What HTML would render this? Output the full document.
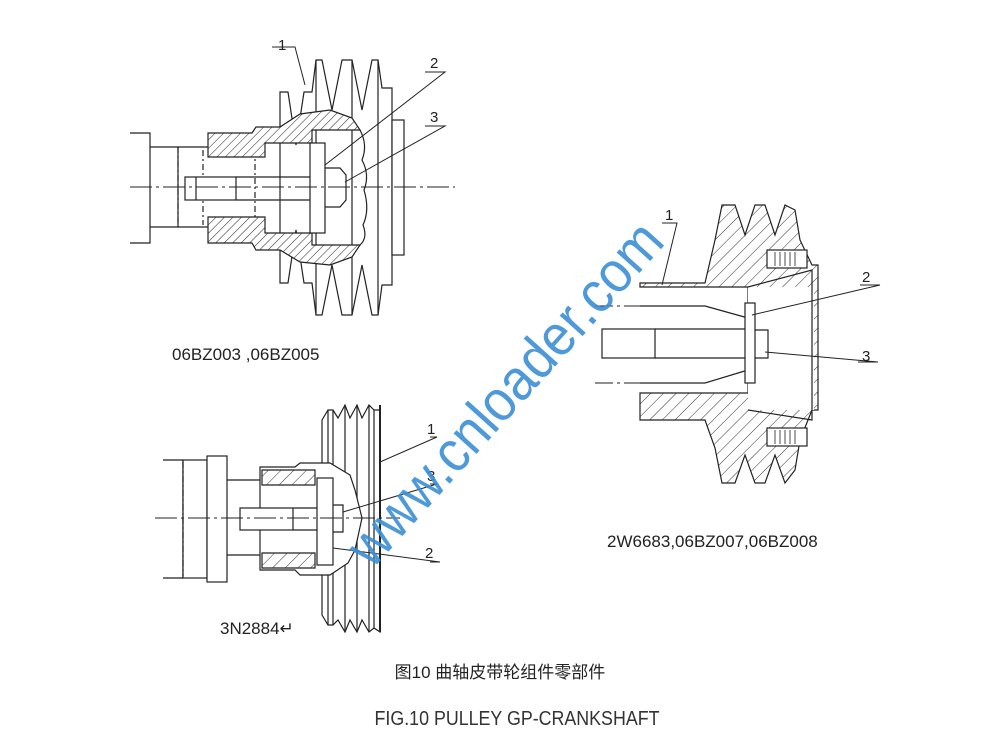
<!DOCTYPE html>
<html><head><meta charset="utf-8"><style>
html,body{margin:0;padding:0;background:#fff}
svg{display:block}
text{font-family:"Liberation Sans","Noto Sans CJK SC",sans-serif;fill:#222}
</style></head><body>
<svg width="1000" height="752" viewBox="0 0 1000 752" xmlns="http://www.w3.org/2000/svg">
<defs>
<pattern id="h" width="6" height="6" patternUnits="userSpaceOnUse" patternTransform="rotate(45)">
<rect width="6" height="6" fill="#fff"/><line x1="0" y1="0" x2="0" y2="6" stroke="#333" stroke-width="1.1"/>
</pattern>
<pattern id="h2" width="9" height="9" patternUnits="userSpaceOnUse" patternTransform="rotate(45)">
<rect width="9" height="9" fill="#fff"/><line x1="0" y1="0" x2="0" y2="9" stroke="#333" stroke-width="1"/>
</pattern>
</defs>
<g fill="none" stroke="#222" stroke-width="1.2">
<!-- Drawing 1 -->
<path d="M130 133 H150 V243 H130"/>
<path d="M150 147 H178 V227 H150" />
<line x1="178" y1="147" x2="178" y2="227" stroke-dasharray="6 3 2 3"/>
<path d="M178 147 H265 M178 227 H265"/>
<line x1="203" y1="150" x2="203" y2="225" stroke-dasharray="6 3 2 3"/>
<line x1="255" y1="150" x2="255" y2="225" stroke-dasharray="6 3 2 3"/>
<path d="M280 92 L288 92 L296 145 L304 92 L312 92 L316 60 L322 60 L332 110 L342 60 L352 60 L362 110 L372 60 L378 60 L382 88 L392 88 V285 L382 285 L378 315 L372 315 L362 265 L352 315 L342 315 L332 265 L322 315 L316 315 L312 283 L304 283 L296 230 L288 283 L280 283 Z" fill="#fff"/>
<line x1="316" y1="60" x2="316" y2="315"/><line x1="352" y1="60" x2="352" y2="315"/><line x1="378" y1="60" x2="378" y2="315"/>
<rect x="392" y="120" width="12" height="135" fill="#fff"/>
<path d="M208 133 H252 L256 127 H280 L300 114 L330 110 L352 118 L360 130 H312 V143 H265 V157 H208 Z" fill="url(#h)"/>
<path d="M208 217 H265 V233 H312 V245 H360 L352 257 L330 265 L300 262 L280 250 H256 L252 243 H208 Z" fill="url(#h)"/>
<path d="M360 130 Q368 145 362 160 Q370 175 364 190 Q370 210 363 225 Q368 238 360 245" />
<rect x="310" y="143" width="15" height="90" fill="#fff"/>
<path d="M325 168 H340 L346 175 V200 L340 207 H325"/>
<rect x="185" y="177" width="51" height="23" fill="#fff"/>
<line x1="196" y1="177" x2="196" y2="200"/>
<line x1="236" y1="177" x2="310" y2="177"/><line x1="236" y1="200" x2="310" y2="200"/>
<line x1="130" y1="187" x2="455" y2="187" stroke-dasharray="22 4 3 4" stroke-width="1"/>
<path d="M272 47 H295 L305 85" stroke-width="1"/>
<path d="M425 72 H445 L325 165" stroke-width="1"/>
<path d="M425 126 H445 L345 182" stroke-width="1"/>

<!-- Drawing 2 -->
<path d="M715 240 L722 205 L735 205 L745 235 L755 205 L765 205 L775 235 L785 205 L795 210 L800 240 L812 265 H818 V410 H812 L800 440 L795 470 L785 483 L775 455 L765 483 L755 483 L745 455 L735 483 L722 483 L715 448 L705 420 H640 V393 H748 V287 H640 V283 H705 Z" fill="url(#h2)"/>
<path d="M640 306 H705 L748 318 M640 383 H705 L748 370" />
<rect x="748" y="287" width="66" height="123" fill="#fff" stroke="none"/>
<path d="M748 287 L812 270 V420 L748 410"/>
<rect x="767" y="250" width="40" height="18" fill="#fff"/><rect x="767" y="428" width="40" height="18" fill="#fff"/>
<path d="M775 252 V266 M780 252V266 M785 252V266 M790 252V266 M795 252V266 M775 430V444 M780 430V444 M785 430V444 M790 430V444 M795 430V444" stroke-width="0.8"/>
<rect x="745" y="303" width="10" height="80" fill="#fff"/>
<rect x="602" y="329" width="53" height="29" fill="#fff"/>
<line x1="655" y1="329" x2="745" y2="329"/><line x1="655" y1="358" x2="745" y2="358"/>
<path d="M755 330 H768 V358 H755"/>
<line x1="595" y1="306" x2="640" y2="306" stroke-dasharray="18 4 3 4" stroke-width="1"/>
<line x1="595" y1="383" x2="640" y2="383" stroke-dasharray="18 4 3 4" stroke-width="1"/>
<path d="M662 223 H677 L662 285" stroke-width="1"/>
<path d="M860 285 H880 L752 315" stroke-width="1"/>
<path d="M858 362 H878 L765 352" stroke-width="1"/>

<!-- Drawing 3 -->
<path d="M163 460 H183 V578 H163"/>
<rect x="183" y="460" width="24" height="118" fill="#fff"/>
<rect x="207" y="456" width="20" height="126" fill="#fff"/>
<line x1="183" y1="462" x2="183" y2="576" stroke-dasharray="6 3 2 3"/>
<line x1="227" y1="480" x2="260" y2="480"/><line x1="227" y1="555" x2="260" y2="555"/>
<path d="M322 420 L328 410 L333 410 L338 418 L345 405 L350 418 L357 405 L362 418 L369 405 L374 410 L380 410 V632 L374 628 L369 632 L362 620 L357 632 L350 620 L345 632 L338 620 L333 625 L328 625 L322 615 Z" fill="#fff"/>
<path d="M328 410 V625 M333 410 V625 M345 405 V632 M357 405 V632 M369 405 V632 M374 410 V628"/>
<line x1="380" y1="405" x2="380" y2="632" stroke-width="2"/>
<path d="M260 467 H295 L300 463 H330 L350 475 L355 490 L362 518 L355 550 L348 563 L330 575 H300 L295 570 H260 Z" fill="#fff"/>
<path d="M262 470 H315 V485 H262 Z" fill="url(#h2)"/>
<path d="M262 553 H315 V568 H262 Z" fill="url(#h2)"/>
<rect x="317" y="478" width="16" height="87" fill="#fff"/>
<rect x="240" y="508" width="53" height="22" fill="#fff"/>
<line x1="293" y1="508" x2="317" y2="508"/><line x1="293" y1="530" x2="317" y2="530"/>
<path d="M333 505 H343 V532 H333"/>
<line x1="155" y1="518" x2="400" y2="518" stroke-dasharray="22 4 3 4" stroke-width="1"/>
<path d="M430 437 H437 L380 462" stroke-width="1"/>
<path d="M430 484 H437 L343 512" stroke-width="1"/>
<path d="M430 562 H440 L333 548" stroke-width="1"/>
</g>
<g font-size="15">
<text x="278" y="50">1</text><text x="430" y="68">2</text><text x="430" y="122">3</text>
<text x="665" y="220">1</text><text x="862" y="282">2</text><text x="862" y="361">3</text>
<text x="427" y="434">1</text><text x="427" y="481">3</text><text x="425" y="558">2</text>
</g>
<text x="172" y="360" font-size="17">06BZ003 ,06BZ005</text>
<text x="607" y="547" font-size="17">2W6683,06BZ007,06BZ008</text>
<text x="220" y="634" font-size="17">3N2884↵</text>
<text x="500" y="678" font-size="17" text-anchor="middle">图10  曲轴皮带轮组件零部件</text>
<text x="517" y="725" font-size="20" text-anchor="middle" textLength="285" lengthAdjust="spacingAndGlyphs" style="fill:#333">FIG.10  PULLEY GP-CRANKSHAFT</text>
<text x="0" y="0" font-size="58" transform="translate(372,570) rotate(-48)" style="fill:#3b8fd6;opacity:0.9" textLength="440" lengthAdjust="spacingAndGlyphs">www.cnloader.com</text>
</svg>
</body></html>
